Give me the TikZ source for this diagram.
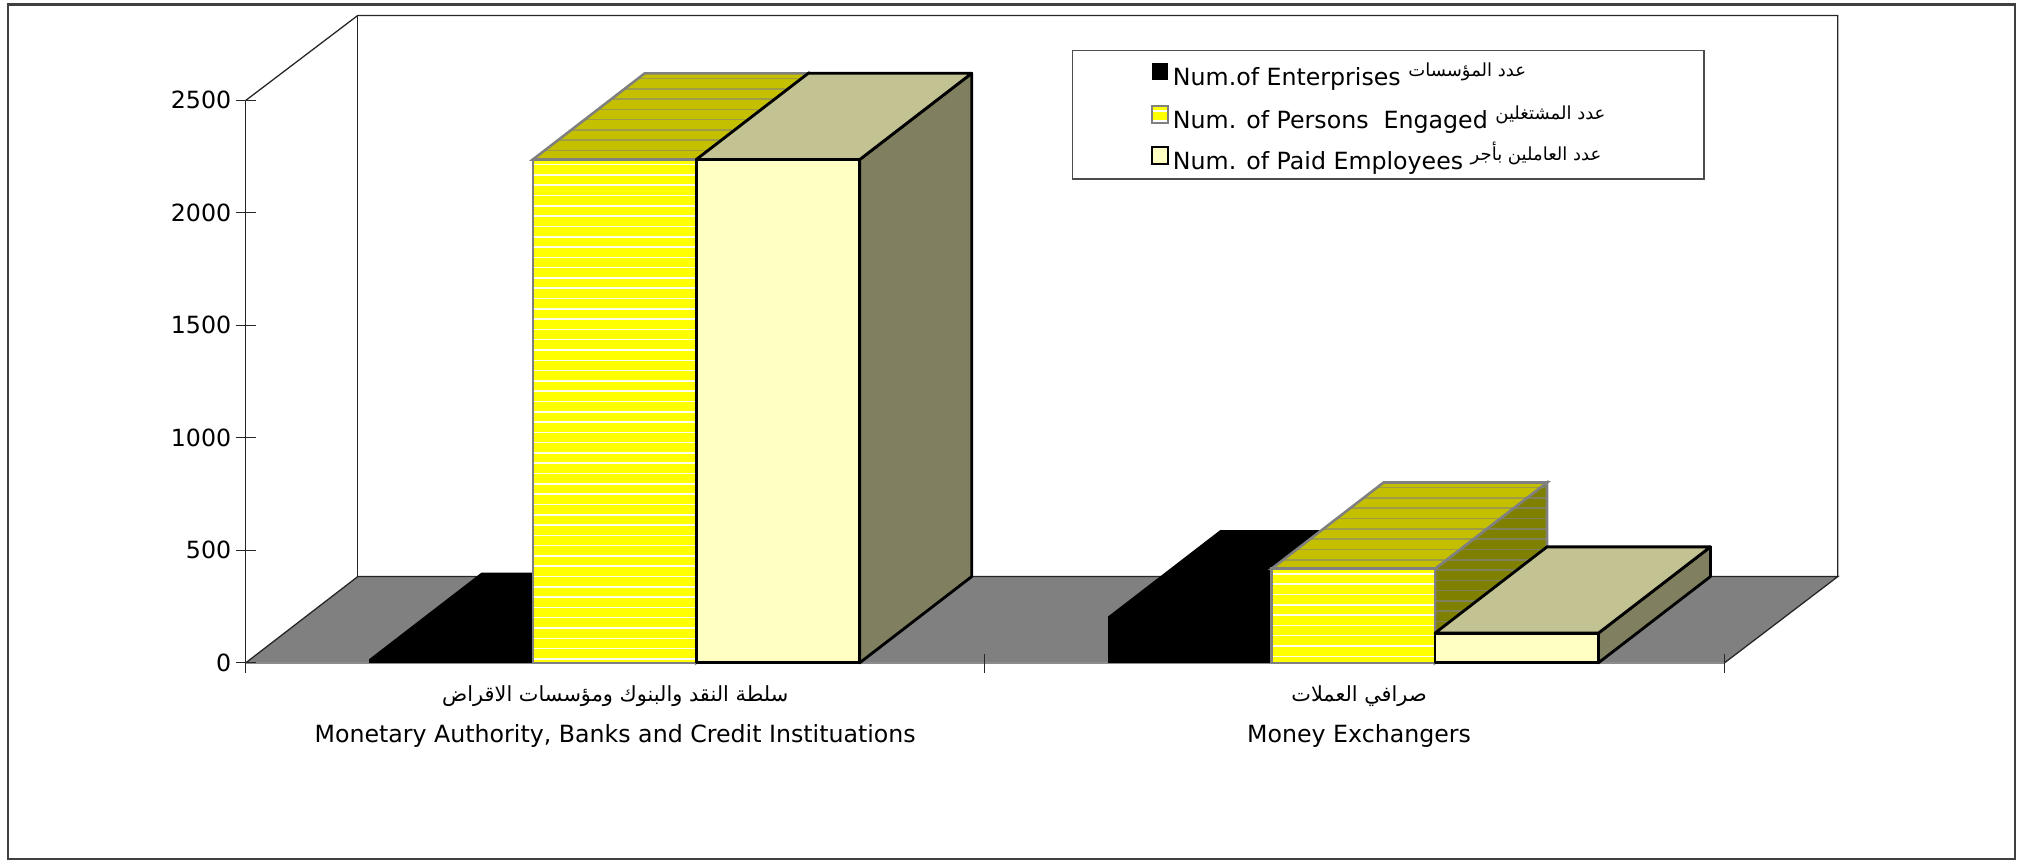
\documentclass[tikz,border=0pt]{standalone}
\usepackage{fontspec}
\setmainfont{DejaVu Sans}
\newfontfamily\arabicfont[Script=Arabic]{DejaVu Sans}
\TeXXeTstate=1

\definecolor{floorgray}{HTML}{808080}
\definecolor{engfront}{HTML}{FFFF00}
\definecolor{engtop}{HTML}{C4C000}
\definecolor{engside}{HTML}{808000}
\definecolor{paidfront}{HTML}{FFFFC4}
\definecolor{paidtop}{HTML}{C2C292}
\definecolor{paidside}{HTML}{808060}

\tikzset{stripes/.style={path picture={\foreach \yy in {4,12,...,620}
      \draw[#1,line width=0.6pt] (path picture bounding box.north west) ++(-2,\yy) -- ++(330,0);}}}

% one 3d column: left x, value, front, top, side
\newcommand{\colblock}[5]{%
  \pgfmathsetmacro\ytop{515-#2*0.1748}%
  \pgfmathsetmacro\ydep{\ytop-67}%
  \pgfmathsetmacro\xr{#1+127}%
  \path[#5] (\xr,515) -- (\xr,\ytop) -- (\xr+87,\ydep) -- (\xr+87,448) -- cycle;
  \path[#4] (#1,\ytop) -- (#1+87,\ydep) -- (\xr+87,\ydep) -- (\xr,\ytop) -- cycle;
  \path[#3] (#1,515) rectangle (\xr,\ytop);
}

\begin{document}
\begin{tikzpicture}[x=0.5pt,y=-0.5pt]
\tikzstyle{every node}=[inner sep=0pt,font=\fontsize{9.2}{11}\selectfont]
\tikzstyle{wall}=[black!85,line width=0.5pt]
\tikzstyle{ent}=[fill=black]
\tikzstyle{engf}=[fill=engfront,draw=floorgray,line width=1pt,stripes={white!92!yellow}]
\tikzstyle{engt}=[fill=engtop,draw=floorgray,line width=1pt,stripes={gray!55!engtop}]
\tikzstyle{engs}=[fill=engside,draw=floorgray,line width=1pt,stripes={gray!70!engside}]
\tikzstyle{paidf}=[fill=paidfront,draw=black,line width=1.1pt,line join=round]
\tikzstyle{paidt}=[fill=paidtop,draw=black,line width=1.1pt,line join=round]
\tikzstyle{paids}=[fill=paidside,draw=black,line width=1.1pt,line join=round]
\tikzstyle{swatch}=[minimum width=6.2pt,minimum height=6.6pt]
\tikzstyle{catar}=[anchor=base,font=\fontsize{8.1}{10}\selectfont\arabicfont]
\useasboundingbox (0,0) rectangle (1568,672);
\draw[black!75,line width=0.8pt] (6,3.5) rectangle (1566,667.5);

% walls and floor
\fill[floorgray] (191,515) -- (278,448) -- (1428,448) -- (1340,515) -- cycle;
\draw[wall] (191,515) -- (278,448) -- (1428,448) -- (1340,515);
\draw[wall] (191,78) -- (278,12) -- (1428,12) -- (1428,448);
\draw[wall] (278,12) -- (278,448);
\draw[black!45,line width=0.6pt] (191,515) -- (1340,515);
\draw[wall] (191,78) -- (191,523);
\foreach \x in {765,1340}
  \draw[wall] (\x,508) -- (\x,523);
\foreach \v in {0,500,...,2500}{
  \pgfmathsetmacro\yy{515-\v*0.1748}
  \draw[wall] (183,\yy) -- (199,\yy);
  \node[anchor=east] (ylab\v) at (180,\yy) {\v};
}

% columns
\colblock{287}{17}{ent}{ent}{ent}
\colblock{414}{2237}{engf}{engt}{engs}
\colblock{541}{2237}{paidf}{paidt}{paids}
\colblock{861}{206}{ent}{ent}{ent}
\colblock{988}{418}{engf}{engt}{engs}
\colblock{1115}{132}{paidf}{paidt}{paids}

% category labels
\node[catar] (bankar) at (478,545) {\beginR سلطة النقد والبنوك ومؤسسات الاقراض\endR};
\node[anchor=base] (banken) at (478,577) {Monetary Authority, Banks and Credit Instituations};
\node[catar] (exchar) at (1056,545) {\beginR صرافي العملات\endR};
\node[anchor=base] (exchen) at (1056,577) {Money Exchangers};

% legend
\node[draw=black!70,line width=0.5pt,minimum width=245.3pt,minimum height=49.8pt] (legend) at (1078.7,89.2) {};
\node[swatch,fill=black] (keyent) at (901.2,55.3) {};
\node[swatch,fill=engfront,draw=floorgray,line width=0.9pt,stripes={white}] (keyeng) at (901.2,88.8) {};
\node[swatch,fill=paidfront,draw=black,line width=0.9pt] (keypaid) at (901.2,121) {};
\node[anchor=base west] (txtent) at (911,66.8) {Num.of Enterprises \raisebox{3.5pt}{\fontsize{7}{8}\selectfont\arabicfont\beginR عدد  المؤسسات\endR}};
\node[anchor=base west] (txteng) at (911,99.5) {Num. of Persons~ Engaged \raisebox{3.5pt}{\fontsize{7}{8}\selectfont\arabicfont\beginR عدد المشتغلين\endR}};
\node[anchor=base west] (txtpaid) at (911,131.5) {Num. of Paid Employees \raisebox{3.5pt}{\fontsize{7}{8}\selectfont\arabicfont\beginR عدد العاملين بأجر\endR}};
\end{tikzpicture}
\end{document}
